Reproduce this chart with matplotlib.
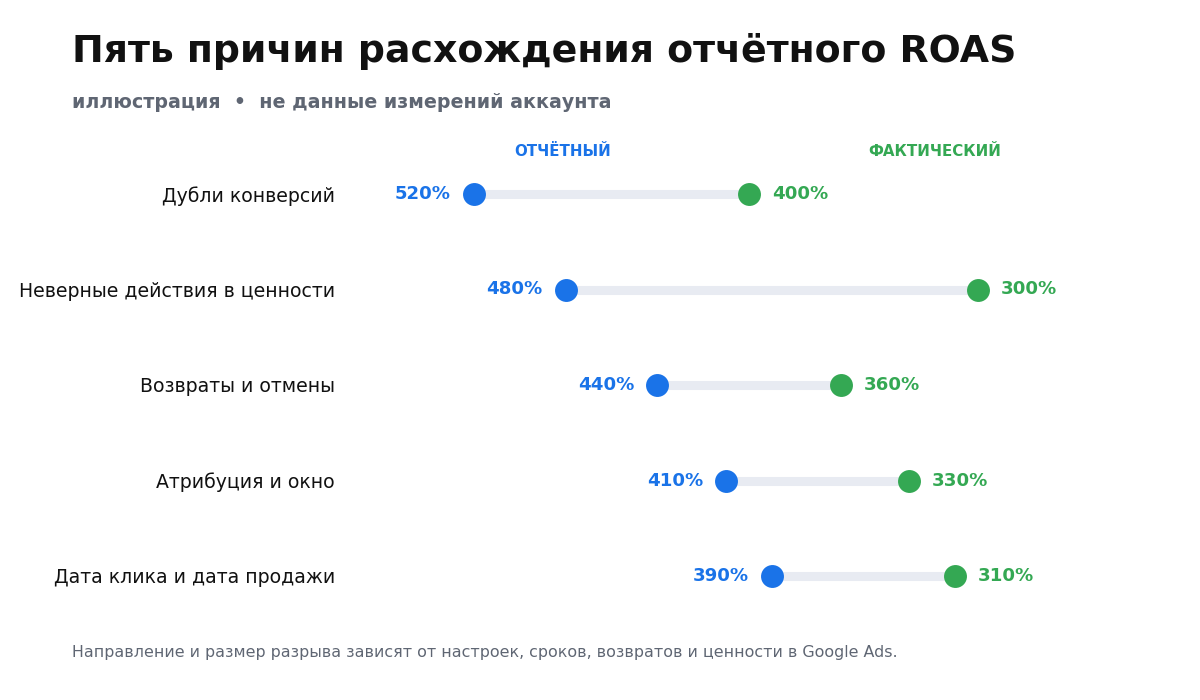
import matplotlib
matplotlib.use("Agg")
import matplotlib.pyplot as plt
from matplotlib.transforms import blended_transform_factory

plt.rcParams['font.family'] = ['DejaVu Sans']

categories = ["Дубли конверсий", "Неверные действия в ценности", "Возвраты и отмены",
              "Атрибуция и окно", "Дата клика и дата продажи"]
reported = [520, 480, 440, 410, 390]
actual = [400, 300, 360, 330, 310]

BLUE = "#1a73e8"
GREEN = "#34a853"
LINE = "#e8ebf2"
GRAY = "#5f6673"

W, H = 1200, 700
fig = plt.figure(figsize=(12, 7), dpi=100)
fig.patch.set_facecolor("white")

# axes spanning full width; row band from y=194 to 576 px
y_top, y_bot = 194, 576
n = len(categories)
step = (y_bot - y_top) / (n - 1)
ax_bottom = 1 - (y_bot + step / 2) / H
ax_height = (n * step) / H
ax = fig.add_axes([0, ax_bottom, 1, ax_height])
ax.set_xlim(726.9, 203.1)
ax.set_ylim(n - 0.5, -0.5)
ax.axis("off")

ys = list(range(n))
for i in ys:
    ax.plot([reported[i], actual[i]], [i, i], color=LINE, lw=6.5, solid_capstyle="butt", zorder=1)
ax.scatter(reported, ys, s=16.5**2, color=BLUE, zorder=3, linewidths=0)
ax.scatter(actual, ys, s=16.5**2, color=GREEN, zorder=3, linewidths=0)

for i in ys:
    ax.annotate(f"{reported[i]}%", (reported[i], i), xytext=(-16.5, 0), textcoords="offset points",
                ha="right", va="center", color=BLUE, fontsize=13.1, fontweight="bold")
    ax.annotate(f"{actual[i]}%", (actual[i], i), xytext=(16.5, 0), textcoords="offset points",
                ha="left", va="center", color=GREEN, fontsize=13.1, fontweight="bold")

trans = blended_transform_factory(fig.transFigure, ax.transData)
for i, c in enumerate(categories):
    ax.text(335 / W, i + 0.02, c, transform=trans, ha="right", va="center", fontsize=13.6, color="#111111")

fig.text(563 / W, 1 - 152 / H, "ОТЧЁТНЫЙ", ha="center", va="center", color=BLUE,
         fontsize=10.85, fontweight="bold")
fig.text(935 / W, 1 - 152 / H, "ФАКТИЧЕСКИЙ", ha="center", va="center", color=GREEN,
         fontsize=10.85, fontweight="bold")

fig.text(72 / W, 1 - 51 / H, "Пять причин расхождения отчётного ROAS", ha="left", va="center",
         fontsize=27.3, fontweight="bold", color="#111111")
fig.text(72 / W, 1 - 103 / H, "иллюстрация  •  не данные измерений аккаунта", ha="left", va="center",
         fontsize=13.7, fontweight="bold", color=GRAY)
fig.text(72 / W, 1 - 653 / H,
         "Направление и размер разрыва зависят от настроек, сроков, возвратов и ценности в Google Ads.",
         ha="left", va="center", fontsize=11.45, color=GRAY)

fig.savefig("out.png", dpi=100, facecolor="white")
